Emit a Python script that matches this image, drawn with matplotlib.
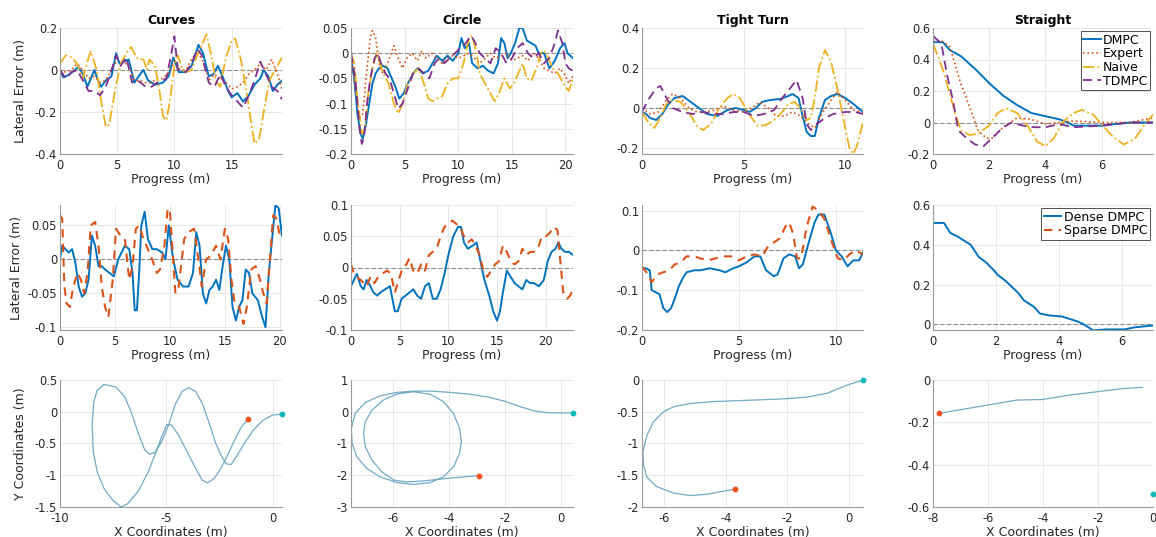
import matplotlib
matplotlib.use("Agg")
import matplotlib.pyplot as plt
from matplotlib.ticker import FuncFormatter

plt.rcParams['font.family'] = ['DejaVu Sans']
plt.rcParams['axes.unicode_minus'] = False

# ---------------- Row 1 : Curves ----------------
cur_dmpc_x = [0, 0.3, 0.7, 1.2, 1.6, 2.0, 2.4, 3.0, 3.4, 3.6, 4.0, 4.5, 4.9, 5.2, 5.6, 6.0, 6.5, 7.0, 7.3, 7.7, 8.3, 9.0, 9.5, 9.9, 10.4, 11.0, 11.5, 12.1, 12.5, 13.0, 13.4, 13.8, 14.2, 14.7, 15.0, 15.5, 16.0, 16.5, 17.0, 17.5, 17.8, 18.2, 18.6, 19.0, 19.4]
cur_dmpc_y = [0.0, -0.035, -0.025, -0.005, 0.015, -0.02, -0.08, 0.0, -0.06, -0.08, -0.05, -0.03, 0.08, 0.03, 0.04, 0.05, -0.06, -0.02, 0.0, -0.05, -0.07, -0.06, -0.03, 0.06, -0.01, -0.01, 0.02, 0.12, 0.08, -0.03, -0.02, 0.02, -0.03, -0.10, -0.13, -0.11, -0.15, -0.12, -0.07, -0.04, 0.0, -0.03, -0.10, -0.07, -0.05]
cur_exp_x = [0, 0.5, 1.0, 1.5, 2.0, 2.5, 3.0, 3.5, 4.0, 4.5, 5.0, 5.5, 6.0, 6.5, 7.0, 7.5, 8.0, 8.5, 9.0, 9.5, 10.0, 10.5, 11.0, 11.5, 12.0, 12.5, 13.0, 13.5, 14.0, 14.5, 15.0, 15.5, 16.0, 16.5, 17.0, 17.5, 18.0, 18.5, 19.0, 19.4]
cur_exp_y = [0.0, -0.01, 0.0, 0.03, 0.0, -0.04, -0.03, -0.06, -0.05, 0.0, 0.05, 0.04, 0.02, -0.05, -0.05, -0.06, -0.06, -0.04, -0.04, -0.01, 0.04, 0.0, 0.0, 0.05, 0.09, 0.04, -0.05, -0.02, -0.04, -0.06, -0.09, -0.08, -0.06, -0.02, 0.0, 0.03, 0.0, 0.05, -0.02, -0.09]
cur_naive_x = [0, 0.5, 1.0, 1.5, 2.0, 2.5, 2.7, 3.2, 3.6, 4.0, 4.3, 4.8, 5.3, 5.8, 6.2, 6.8, 7.3, 7.6, 7.8, 8.3, 8.7, 9.0, 9.3, 9.6, 10.0, 10.3, 10.7, 11.0, 11.5, 12.0, 12.4, 12.8, 13.3, 13.6, 14.0, 14.5, 15.0, 15.3, 15.8, 16.3, 16.7, 17.0, 17.4, 17.8, 18.3, 18.8, 19.4]
cur_naive_y = [0.03, 0.07, 0.06, 0.03, -0.04, 0.06, 0.09, 0.0, -0.15, -0.27, -0.26, -0.10, 0.03, 0.08, 0.11, 0.05, 0.05, 0.0, 0.05, 0.02, -0.10, -0.22, -0.24, -0.15, 0.02, 0.07, 0.0, -0.01, 0.0, 0.07, 0.12, 0.17, 0.05, -0.05, -0.08, 0.06, 0.14, 0.15, 0.05, -0.10, -0.25, -0.35, -0.33, -0.20, -0.05, 0.0, 0.06]
cur_td_x = [0, 0.5, 1.0, 1.5, 2.0, 2.5, 3.0, 3.5, 4.0, 4.5, 4.9, 5.3, 5.8, 6.3, 6.8, 7.5, 8.0, 8.5, 9.3, 9.7, 10.0, 10.3, 11.0, 11.5, 12.0, 12.4, 13.0, 13.5, 14.0, 14.5, 15.0, 15.5, 16.0, 16.5, 17.0, 17.5, 18.0, 18.5, 19.0, 19.4]
cur_td_y = [0.0, -0.04, -0.01, 0.0, -0.05, -0.10, -0.10, -0.12, -0.08, 0.0, 0.07, 0.02, 0.06, -0.06, -0.05, -0.08, -0.08, -0.06, -0.04, 0.07, 0.16, 0.0, -0.01, 0.03, 0.10, 0.07, -0.06, -0.08, -0.02, -0.08, -0.12, -0.15, -0.18, -0.12, -0.05, 0.04, -0.02, -0.08, -0.10, -0.14]

# ---------------- Row 1 : Circle ----------------
cir_dmpc_x = [0, 0.3, 0.6, 0.9, 1.1, 1.4, 1.7, 2.0, 2.3, 2.6, 3.0, 3.4, 3.8, 4.2, 4.5, 4.9, 5.3, 5.8, 6.2, 6.7, 7.2, 7.6, 8.0, 8.5, 9.0, 9.5, 10.0, 10.3, 10.6, 11.0, 11.3, 11.8, 12.3, 12.8, 13.3, 13.7, 14.0, 14.3, 14.6, 14.9, 15.3, 15.7, 16.0, 16.4, 16.8, 17.2, 17.5, 18.0, 18.5, 19.0, 19.5, 19.9, 20.2, 20.7]
cir_dmpc_y = [-0.01, -0.05, -0.12, -0.16, -0.17, -0.14, -0.10, -0.06, -0.04, -0.03, -0.025, -0.03, -0.05, -0.07, -0.09, -0.08, -0.06, -0.04, -0.03, -0.04, -0.035, -0.02, -0.005, -0.015, -0.005, -0.015, 0.0, 0.03, 0.01, 0.02, -0.02, -0.03, -0.025, -0.035, -0.04, -0.02, 0.03, 0.02, -0.01, 0.0, 0.02, 0.05, 0.05, 0.025, 0.02, 0.015, 0.0, 0.0, -0.03, -0.015, 0.01, 0.02, 0.0, -0.01]
cir_exp_x = [0, 0.4, 0.8, 1.1, 1.4, 1.8, 2.0, 2.3, 2.7, 3.0, 3.4, 4.0, 4.4, 4.8, 5.2, 5.7, 6.2, 6.6, 7.0, 7.5, 8.0, 8.5, 9.0, 9.5, 10.0, 10.5, 11.0, 11.5, 12.0, 12.5, 13.0, 13.5, 14.0, 14.5, 15.0, 15.5, 16.0, 16.5, 17.0, 17.5, 18.0, 18.5, 19.0, 19.5, 20.0, 20.3, 20.7]
cir_exp_y = [0.0, -0.07, -0.13, -0.12, -0.05, 0.03, 0.045, 0.03, -0.03, -0.04, -0.02, 0.015, -0.01, -0.03, -0.01, 0.0, -0.015, 0.005, -0.01, 0.0, -0.01, -0.02, -0.01, -0.005, -0.01, -0.005, 0.0, -0.01, -0.02, -0.01, 0.0, -0.01, -0.005, 0.0, -0.015, -0.01, -0.005, -0.015, 0.0, -0.01, -0.03, -0.035, -0.04, -0.03, -0.045, -0.06, -0.045]
cir_naive_x = [0, 0.3, 0.6, 1.0, 1.3, 1.6, 2.0, 2.4, 2.7, 3.0, 3.5, 4.0, 4.4, 4.8, 5.3, 5.8, 6.3, 6.8, 7.2, 7.6, 8.0, 8.5, 9.0, 9.5, 10.0, 10.5, 11.0, 11.3, 11.7, 12.0, 12.5, 13.0, 13.4, 13.8, 14.3, 14.8, 15.2, 15.6, 16.0, 16.4, 16.8, 17.3, 17.7, 18.0, 18.4, 18.8, 19.3, 19.8, 20.3, 20.7]
cir_naive_y = [0.0, -0.02, -0.09, -0.16, -0.15, -0.08, -0.03, 0.0, -0.02, -0.04, -0.06, -0.10, -0.12, -0.10, -0.06, -0.04, -0.03, -0.06, -0.09, -0.095, -0.09, -0.085, -0.06, -0.05, -0.05, -0.02, 0.03, 0.035, 0.0, -0.04, -0.06, -0.08, -0.095, -0.08, -0.05, -0.07, -0.06, -0.04, -0.02, -0.05, -0.055, -0.03, 0.0, 0.005, -0.01, -0.03, -0.04, -0.06, -0.075, -0.05]
cir_td_x = [0, 0.4, 0.8, 1.0, 1.2, 1.5, 1.8, 2.2, 2.5, 2.8, 3.2, 3.6, 4.0, 4.4, 4.8, 5.3, 5.8, 6.3, 6.8, 7.3, 7.8, 8.2, 8.7, 9.2, 9.7, 10.2, 10.7, 11.2, 11.6, 12.0, 12.5, 13.0, 13.5, 14.0, 14.5, 15.0, 15.5, 16.0, 16.5, 17.0, 17.5, 18.0, 18.5, 19.0, 19.3, 19.7, 20.0, 20.3, 20.7]
cir_td_y = [0.0, -0.05, -0.15, -0.18, -0.17, -0.10, -0.05, -0.01, 0.0, -0.02, -0.04, -0.05, -0.08, -0.11, -0.10, -0.07, -0.04, -0.03, -0.04, -0.05, -0.02, -0.01, -0.02, -0.01, 0.0, 0.01, 0.02, 0.035, 0.02, 0.0, -0.01, -0.02, 0.01, 0.0, -0.02, -0.01, 0.01, 0.02, 0.0, -0.01, 0.0, -0.02, -0.01, 0.02, 0.045, 0.02, -0.02, -0.03, -0.035]

# ---------------- Row 1 : Tight Turn ----------------
tt_dmpc_x = [0, 0.2, 0.4, 0.7, 1.0, 1.3, 1.6, 2.0, 2.4, 2.8, 3.2, 3.7, 4.2, 4.6, 5.0, 5.3, 5.6, 5.9, 6.3, 6.8, 7.2, 7.4, 7.7, 7.9, 8.1, 8.3, 8.5, 8.7, 9.0, 9.3, 9.6, 10.0, 10.4, 10.87]
tt_dmpc_y = [-0.02, -0.03, -0.05, -0.06, -0.03, 0.02, 0.05, 0.06, 0.03, 0.0, -0.03, -0.04, -0.01, 0.0, -0.01, -0.02, 0.0, 0.03, 0.04, 0.045, 0.06, 0.07, 0.05, -0.04, -0.12, -0.14, -0.14, -0.05, 0.04, 0.06, 0.07, 0.05, 0.02, -0.02]
tt_exp_x = [0, 0.4, 0.8, 1.2, 1.5, 1.9, 2.3, 2.7, 3.1, 3.6, 4.0, 4.5, 5.0, 5.4, 5.8, 6.2, 6.6, 7.0, 7.4, 7.8, 8.2, 8.5, 8.9, 9.3, 9.6, 10.0, 10.4, 10.87]
tt_exp_y = [0.0, -0.03, -0.02, 0.04, 0.07, 0.05, 0.0, -0.02, -0.02, -0.01, 0.01, -0.01, -0.02, 0.0, 0.03, 0.0, -0.04, -0.04, -0.02, -0.04, -0.08, -0.10, -0.02, 0.04, 0.08, 0.04, -0.01, -0.02]
tt_naive_x = [0, 0.3, 0.6, 0.9, 1.2, 1.5, 1.9, 2.3, 2.7, 3.0, 3.4, 3.8, 4.2, 4.5, 4.8, 5.1, 5.4, 5.7, 6.1, 6.5, 6.9, 7.2, 7.5, 7.8, 8.1, 8.3, 8.5, 8.7, 9.0, 9.3, 9.6, 9.9, 10.2, 10.4, 10.6, 10.87]
tt_naive_y = [-0.02, -0.07, -0.10, -0.05, 0.02, 0.04, 0.03, -0.02, -0.09, -0.11, -0.08, 0.0, 0.05, 0.07, 0.05, 0.0, -0.05, -0.09, -0.085, -0.06, -0.02, 0.02, 0.03, 0.0, -0.06, -0.05, 0.05, 0.20, 0.29, 0.23, 0.10, -0.05, -0.20, -0.23, -0.18, -0.07]
tt_td_x = [0, 0.3, 0.7, 0.9, 1.2, 1.5, 2.0, 2.5, 3.0, 3.5, 4.0, 4.5, 5.0, 5.5, 6.0, 6.5, 6.9, 7.3, 7.6, 7.9, 8.1, 8.3, 8.6, 9.0, 9.4, 10.0, 10.5, 10.87]
tt_td_y = [-0.02, 0.04, 0.10, 0.11, 0.05, 0.0, -0.02, -0.03, -0.02, -0.03, -0.03, -0.02, -0.02, -0.04, -0.03, -0.01, 0.05, 0.10, 0.14, 0.05, -0.08, -0.11, -0.08, -0.05, -0.03, -0.02, -0.02, -0.03]

# ---------------- Row 1 : Straight ----------------
st_dmpc_x = [0, 0.35, 0.6, 1.0, 1.5, 2.0, 2.5, 3.0, 3.5, 4.0, 4.5, 4.8, 5.0, 5.5, 6.0, 6.5, 7.0, 7.83]
st_dmpc_y = [0.51, 0.51, 0.46, 0.42, 0.34, 0.25, 0.17, 0.11, 0.06, 0.04, 0.02, 0.0, -0.02, -0.02, -0.02, -0.01, 0.0, 0.0]
st_exp_x = [0, 0.3, 0.6, 0.8, 1.0, 1.2, 1.4, 1.6, 1.9, 2.1, 2.5, 3.0, 3.5, 4.0, 4.5, 5.0, 6.0, 7.0, 7.83]
st_exp_y = [0.52, 0.52, 0.48, 0.36, 0.24, 0.15, 0.05, -0.05, -0.10, -0.10, -0.03, 0.03, 0.02, -0.01, 0.0, 0.01, 0.0, 0.0, 0.03]
st_naive_x = [0, 0.2, 0.4, 0.6, 0.8, 1.0, 1.3, 1.6, 2.0, 2.3, 2.6, 3.0, 3.4, 3.7, 4.0, 4.3, 4.6, 5.0, 5.3, 5.7, 6.0, 6.4, 6.8, 7.2, 7.5, 7.83]
st_naive_y = [0.50, 0.41, 0.31, 0.18, 0.05, -0.05, -0.08, -0.07, -0.02, 0.06, 0.09, 0.06, -0.03, -0.12, -0.15, -0.10, 0.0, 0.06, 0.08, 0.05, -0.01, -0.09, -0.14, -0.10, -0.02, 0.05]
st_td_x = [0, 0.3, 0.5, 0.7, 0.9, 1.2, 1.5, 1.8, 2.1, 2.5, 2.8, 3.2, 3.6, 4.0, 4.5, 5.0, 6.0, 7.0, 7.83]
st_td_y = [0.55, 0.50, 0.30, 0.15, -0.05, -0.10, -0.14, -0.15, -0.10, -0.03, 0.0, -0.02, -0.03, -0.03, -0.01, -0.03, -0.02, 0.0, 0.0]

# ---------------- Row 2 : Dense vs Sparse ----------------
cur_dense_x = [0, 0.2, 0.5, 0.8, 1.1, 1.4, 1.7, 2.0, 2.3, 2.6, 2.9, 3.2, 3.5, 3.8, 4.1, 4.5, 4.9, 5.3, 5.6, 5.9, 6.3, 6.6, 6.8, 7.0, 7.2, 7.4, 7.7, 8.0, 8.4, 8.8, 9.3, 9.6, 9.9, 10.3, 10.7, 11.2, 11.7, 12.1, 12.4, 12.7, 13.0, 13.3, 13.6, 13.9, 14.2, 14.5, 14.8, 15.1, 15.4, 15.7, 16.0, 16.3, 16.6, 16.9, 17.2, 17.5, 18.0, 18.4, 18.7, 19.0, 19.3, 19.6, 19.9, 20.2]
cur_dense_y = [0.0, 0.02, 0.015, 0.01, 0.015, -0.005, -0.04, -0.055, -0.05, -0.03, 0.035, 0.02, -0.01, -0.01, -0.015, -0.02, -0.025, 0.0, 0.01, 0.02, 0.015, -0.02, -0.075, -0.075, -0.02, 0.05, 0.07, 0.03, 0.015, 0.015, 0.01, 0.0, 0.05, 0.0, -0.03, -0.04, -0.04, -0.02, 0.04, 0.02, -0.05, -0.065, -0.045, -0.04, -0.03, -0.045, -0.01, 0.02, 0.0, -0.07, -0.09, -0.07, -0.06, -0.015, -0.02, -0.05, -0.06, -0.085, -0.10, -0.02, 0.03, 0.08, 0.075, 0.035]
cur_sparse_x = [0, 0.2, 0.4, 0.6, 0.9, 1.2, 1.6, 1.9, 2.2, 2.5, 2.8, 3.2, 3.5, 3.8, 4.1, 4.4, 4.8, 5.1, 5.5, 5.9, 6.3, 6.6, 6.9, 7.2, 7.6, 8.0, 8.5, 8.8, 9.1, 9.5, 9.8, 10.0, 10.3, 10.5, 10.8, 11.3, 11.7, 12.2, 12.6, 12.9, 13.3, 13.7, 14.2, 14.6, 15.0, 15.3, 15.6, 15.9, 16.3, 16.7, 17.0, 17.4, 17.8, 18.2, 18.5, 18.8, 19.1, 19.4, 19.7, 20.0]
cur_sparse_y = [0.065, 0.06, -0.04, -0.065, -0.07, -0.04, -0.02, -0.03, -0.05, -0.02, 0.05, 0.055, 0.02, -0.04, -0.07, -0.085, -0.03, 0.045, 0.035, 0.03, -0.03, -0.01, 0.045, 0.05, 0.03, 0.015, -0.005, -0.02, -0.015, 0.02, 0.075, 0.07, 0.0, -0.05, -0.04, 0.03, 0.04, 0.045, 0.0, -0.04, 0.0, 0.005, 0.02, 0.0, 0.045, 0.03, -0.03, -0.065, -0.07, -0.095, -0.07, -0.015, -0.01, -0.03, -0.05, -0.065, 0.0, 0.065, 0.06, 0.035]

cir_dense_x = [0, 0.3, 0.6, 1.0, 1.3, 1.6, 2.0, 2.3, 2.7, 3.0, 3.5, 4.0, 4.5, 4.8, 5.2, 5.6, 6.0, 6.4, 6.8, 7.2, 7.6, 8.0, 8.4, 8.8, 9.2, 9.6, 10.0, 10.5, 11.0, 11.3, 11.6, 12.0, 12.5, 12.9, 13.3, 13.7, 14.2, 14.6, 15.0, 15.3, 15.6, 16.0, 16.4, 16.8, 17.2, 17.6, 18.0, 18.4, 18.8, 19.3, 19.8, 20.2, 20.6, 21.0, 21.3, 21.6, 22.0, 22.4, 22.8]
cir_dense_y = [-0.03, -0.02, -0.01, -0.03, -0.035, -0.02, -0.03, -0.04, -0.045, -0.04, -0.035, -0.03, -0.07, -0.07, -0.05, -0.045, -0.04, -0.035, -0.045, -0.05, -0.03, -0.025, -0.05, -0.05, -0.035, -0.01, 0.02, 0.05, 0.065, 0.065, 0.04, 0.03, 0.035, 0.04, 0.01, -0.02, -0.045, -0.07, -0.085, -0.07, -0.04, -0.005, -0.015, -0.025, -0.03, -0.035, -0.02, -0.025, -0.025, -0.03, -0.02, 0.01, 0.025, 0.03, 0.04, 0.03, 0.025, 0.025, 0.02]
cir_sparse_x = [0, 0.3, 0.6, 1.0, 1.3, 1.6, 2.0, 2.4, 2.8, 3.2, 3.7, 4.1, 4.5, 4.9, 5.3, 5.7, 6.0, 6.4, 6.8, 7.2, 7.6, 8.0, 8.4, 8.8, 9.2, 9.6, 10.0, 10.4, 10.8, 11.2, 11.6, 12.0, 12.4, 12.8, 13.2, 13.6, 14.0, 14.4, 14.8, 15.2, 15.6, 16.0, 16.4, 16.8, 17.2, 17.6, 18.0, 18.4, 18.8, 19.2, 19.6, 20.0, 20.4, 20.8, 21.2, 21.5, 21.8, 22.2, 22.5, 22.8]
cir_sparse_y = [0.005, -0.01, -0.015, -0.02, -0.025, -0.03, -0.015, -0.025, -0.015, -0.01, -0.005, -0.01, -0.04, -0.02, 0.0, 0.005, 0.015, -0.005, -0.01, 0.005, -0.005, 0.02, 0.025, 0.03, 0.05, 0.065, 0.07, 0.075, 0.07, 0.065, 0.05, 0.04, 0.045, 0.035, 0.02, -0.005, -0.015, -0.005, 0.005, 0.01, 0.035, 0.025, 0.01, 0.005, 0.01, 0.03, 0.02, 0.025, 0.025, 0.03, 0.05, 0.05, 0.055, 0.065, 0.06, 0.01, -0.04, -0.05, -0.045, -0.035]

tt_dense_x = [0, 0.2, 0.4, 0.5, 0.7, 0.9, 1.1, 1.3, 1.5, 1.7, 1.9, 2.1, 2.3, 2.7, 3.0, 3.5, 4.0, 4.3, 4.7, 5.0, 5.4, 5.8, 6.1, 6.4, 6.8, 7.0, 7.3, 7.6, 7.9, 8.1, 8.3, 8.6, 8.9, 9.1, 9.4, 9.7, 10.0, 10.3, 10.6, 10.9, 11.2, 11.4]
tt_dense_y = [-0.045, -0.045, -0.05, -0.10, -0.105, -0.11, -0.145, -0.155, -0.145, -0.12, -0.09, -0.07, -0.055, -0.05, -0.05, -0.045, -0.05, -0.055, -0.045, -0.04, -0.03, -0.015, -0.015, -0.05, -0.065, -0.06, -0.02, -0.01, -0.015, -0.045, -0.035, 0.02, 0.07, 0.09, 0.09, 0.05, 0.0, -0.015, -0.04, -0.025, -0.025, -0.005]
tt_sparse_x = [0, 0.3, 0.5, 0.8, 1.1, 1.4, 1.7, 2.0, 2.3, 2.7, 3.0, 3.4, 3.8, 4.2, 4.6, 5.0, 5.4, 5.8, 6.2, 6.5, 6.8, 7.1, 7.4, 7.6, 7.8, 8.0, 8.2, 8.5, 8.8, 9.1, 9.4, 9.6, 9.8, 10.1, 10.4, 10.7, 11.0, 11.4]
tt_sparse_y = [-0.04, -0.06, -0.08, -0.06, -0.055, -0.05, -0.035, -0.03, -0.015, -0.015, -0.02, -0.025, -0.02, -0.015, -0.015, -0.025, -0.015, -0.01, -0.015, 0.01, 0.02, 0.03, 0.06, 0.07, 0.04, -0.02, -0.02, 0.06, 0.11, 0.10, 0.08, 0.05, 0.02, -0.02, -0.025, -0.01, 0.0, -0.01]

st_dense_x = [0, 0.35, 0.55, 0.8, 1.0, 1.2, 1.45, 1.7, 1.95, 2.05, 2.3, 2.5, 2.7, 2.9, 3.2, 3.4, 3.7, 4.1, 4.3, 4.6, 4.8, 5.1, 5.5, 5.8, 6.1, 6.4, 6.7, 7.0]
st_dense_y = [0.51, 0.51, 0.46, 0.44, 0.42, 0.40, 0.34, 0.31, 0.27, 0.25, 0.22, 0.19, 0.16, 0.12, 0.09, 0.055, 0.045, 0.04, 0.03, 0.015, 0.0, -0.03, -0.025, -0.025, -0.025, -0.015, -0.01, -0.005]
st_sparse_x = [-0.05, 0.01]
st_sparse_y = [0.47, 0.47]

# ---------------- Row 3 : Trajectories ----------------
cur_traj_x = [0.43, 0.0, -0.45, -0.92, -1.40, -1.72, -1.96, -2.2, -2.44, -2.68, -2.99, -3.31, -3.63, -3.95, -4.27, -4.59, -4.9, -5.22, -5.54, -5.78, -6.02, -6.34, -6.66, -6.97, -7.37, -7.93, -8.25, -8.41, -8.49, -8.44, -8.25, -7.93, -7.53, -7.13, -6.82, -6.34, -5.86, -5.54, -5.22, -4.98, -4.75, -4.43, -4.03, -3.63, -3.31, -3.07, -2.75, -2.44, -2.12, -1.8, -1.48, -1.18]
cur_traj_y = [-0.04, -0.05, -0.13, -0.29, -0.53, -0.71, -0.83, -0.82, -0.68, -0.5, -0.18, 0.13, 0.32, 0.38, 0.32, 0.11, -0.21, -0.47, -0.64, -0.67, -0.6, -0.32, 0.0, 0.24, 0.39, 0.43, 0.34, 0.16, -0.21, -0.63, -0.95, -1.21, -1.39, -1.5, -1.45, -1.26, -0.95, -0.68, -0.39, -0.2, -0.21, -0.37, -0.63, -0.89, -1.08, -1.12, -1.05, -0.89, -0.68, -0.45, -0.24, -0.12]
cir_traj_x = [0.43, 0.0, -0.5, -0.98, -1.46, -2.05, -2.65, -3.25, -3.97, -4.68, -5.28, -5.88, -6.48, -7.01, -7.37, -7.51, -7.48, -7.31, -6.95, -6.48, -5.88, -5.28, -4.68, -4.21, -3.85, -3.63, -3.57, -3.63, -3.85, -4.21, -4.68, -5.28, -5.88, -6.36, -6.77, -7.01, -7.07, -7.01, -6.77, -6.42, -6.0, -5.52, -4.92, -4.32, -3.61, -2.93]
cir_traj_y = [-0.03, -0.04, -0.03, 0.03, 0.16, 0.34, 0.47, 0.55, 0.61, 0.65, 0.65, 0.61, 0.5, 0.29, -0.05, -0.53, -1.0, -1.42, -1.79, -2.05, -2.23, -2.29, -2.23, -2.05, -1.73, -1.31, -0.95, -0.53, -0.05, 0.32, 0.55, 0.63, 0.56, 0.37, 0.05, -0.32, -0.68, -1.1, -1.52, -1.89, -2.15, -2.21, -2.18, -2.12, -2.06, -2.01]
tt_traj_x = [0.47, -0.05, -0.7, -1.36, -2.23, -3.31, -4.4, -5.15, -5.7, -6.03, -6.36, -6.57, -6.7, -6.68, -6.57, -6.25, -5.7, -5.16, -4.62, -4.07, -3.71]
tt_traj_y = [0.0, -0.08, -0.21, -0.27, -0.3, -0.32, -0.34, -0.37, -0.42, -0.5, -0.66, -0.87, -1.13, -1.34, -1.53, -1.68, -1.78, -1.82, -1.8, -1.75, -1.72]
st_traj_x = [-7.8, -6.0, -4.96, -4.0, -3.03, -2.0, -1.08, -0.39]
st_traj_y = [-0.158, -0.118, -0.095, -0.092, -0.071, -0.055, -0.04, -0.035]
# end markers: (x, y) of the red end point and the cyan point
traj_red = [(-1.18, -0.12), (-2.93, -2.01), (-3.71, -1.72), (-7.8, -0.158)]
traj_cyan = [(0.43, -0.04), (0.43, -0.03), (0.47, 0.0), (-0.01, -0.54)]

titles = ["Curves", "Circle", "Tight Turn", "Straight"]

C_BLUE = '#0072BD'
C_ORANGE = '#D95319'
C_YELLOW = '#EDB120'
C_PURPLE = '#7E2F8E'
C_TRAJ = '#72aac6'
C_RED = '#f2501e'
C_CYAN = '#13b8b8'
TXT = '#262626'

fig = plt.figure(figsize=(11.56, 5.37), dpi=100)
W = 1156.0
H = 537.0
col_left = [60, 351, 642, 933]
col_w = [222, 222, 221, 220]
rows = [(28, 154), (205, 330), (380, 507)]

fmt = FuncFormatter(lambda v, p: ('%g' % round(v, 6)))


def make_ax(r, c):
    top, bot = rows[r]
    ax = fig.add_axes([col_left[c] / W, 1 - bot / H, col_w[c] / W, (bot - top) / H])
    for s in ['top', 'right']:
        ax.spines[s].set_visible(False)
    for s in ['left', 'bottom']:
        ax.spines[s].set_color('#9a9a9a')
        ax.spines[s].set_linewidth(0.8)
    ax.grid(True, color='#e3e3e3', linewidth=0.6)
    ax.set_axisbelow(True)
    ax.tick_params(length=0, labelsize=8.3, colors=TXT)
    ax.tick_params(axis='x', pad=3.5)
    ax.tick_params(axis='y', pad=2)
    ax.xaxis.set_major_formatter(fmt)
    ax.yaxis.set_major_formatter(fmt)
    return ax


# Row 1
row1 = [
    (cur_dmpc_x, cur_dmpc_y, cur_exp_x, cur_exp_y, cur_naive_x, cur_naive_y, cur_td_x, cur_td_y),
    (cir_dmpc_x, cir_dmpc_y, cir_exp_x, cir_exp_y, cir_naive_x, cir_naive_y, cir_td_x, cir_td_y),
    (tt_dmpc_x, tt_dmpc_y, tt_exp_x, tt_exp_y, tt_naive_x, tt_naive_y, tt_td_x, tt_td_y),
    (st_dmpc_x, st_dmpc_y, st_exp_x, st_exp_y, st_naive_x, st_naive_y, st_td_x, st_td_y),
]
r1_xlim = [19.4, 20.7, 10.87, 7.83]
r1_ylim = [(-0.4, 0.2), (-0.2, 0.05), (-0.23, 0.4), (-0.2, 0.6)]
r1_xt = [[0, 5, 10, 15], [0, 5, 10, 15, 20], [0, 5, 10], [0, 2, 4, 6]]
r1_yt = [[-0.4, -0.2, 0, 0.2], [-0.2, -0.15, -0.1, -0.05, 0, 0.05], [-0.2, 0, 0.2, 0.4], [-0.2, 0, 0.2, 0.4, 0.6]]

for c in range(4):
    ax = make_ax(0, c)
    d = row1[c]
    ax.axhline(0, color='#8c8c8c', lw=0.8, ls='--', dashes=(4, 2))
    l1, = ax.plot(d[0], d[1], color=C_BLUE, lw=1.4, label='DMPC')
    l2, = ax.plot(d[2], d[3], color=C_ORANGE, lw=1.2, ls=':', label='Expert')
    l3, = ax.plot(d[4], d[5], color=C_YELLOW, lw=1.3, ls='-.', label='Naive')
    l4, = ax.plot(d[6], d[7], color=C_PURPLE, lw=1.3, ls='--', dashes=(5, 3), label='TDMPC')
    ax.set_xlim(0, r1_xlim[c])
    ax.set_ylim(*r1_ylim[c])
    ax.set_xticks(r1_xt[c])
    ax.set_yticks(r1_yt[c])
    ax.set_title(titles[c], fontsize=9, fontweight='bold', color='black', pad=3)
    ax.set_xlabel('Progress (m)', fontsize=9, color=TXT, labelpad=1)
    if c == 0:
        ax.set_ylabel('Lateral Error (m)', fontsize=9, color=TXT, labelpad=6)
    if c == 3:
        leg = ax.legend(handles=[l1, l2, l3, l4], loc='upper right', fontsize=9,
                        handlelength=1.4, handletextpad=0.2, borderpad=0.2,
                        labelspacing=0.05, borderaxespad=0.25, fancybox=False,
                        edgecolor='#333333', framealpha=1)
        leg.get_frame().set_linewidth(0.6)

# Row 2
row2 = [
    (cur_dense_x, cur_dense_y, cur_sparse_x, cur_sparse_y),
    (cir_dense_x, cir_dense_y, cir_sparse_x, cir_sparse_y),
    (tt_dense_x, tt_dense_y, tt_sparse_x, tt_sparse_y),
    (st_dense_x, st_dense_y, st_sparse_x, st_sparse_y),
]
r2_xlim = [20.2, 22.8, 11.4, 7.0]
r2_ylim = [(-0.104, 0.08), (-0.1, 0.1), (-0.2, 0.114), (-0.028, 0.6)]
r2_xt = [[0, 5, 10, 15, 20], [0, 5, 10, 15, 20], [0, 5, 10], [0, 2, 4, 6]]
r2_yt = [[-0.1, -0.05, 0, 0.05], [-0.1, -0.05, 0, 0.05, 0.1], [-0.2, -0.1, 0, 0.1], [0, 0.2, 0.4, 0.6]]

for c in range(4):
    ax = make_ax(1, c)
    d = row2[c]
    ax.axhline(0, color='#8c8c8c', lw=0.8, ls='--', dashes=(4, 2))
    l1, = ax.plot(d[0], d[1], color=C_BLUE, lw=1.4, label='Dense DMPC')
    l2, = ax.plot(d[2], d[3], color=C_ORANGE, lw=1.5, ls='--', dashes=(4, 3), label='Sparse DMPC')
    ax.set_xlim(0, r2_xlim[c])
    ax.set_ylim(*r2_ylim[c])
    ax.set_xticks(r2_xt[c])
    ax.set_yticks(r2_yt[c])
    ax.set_xlabel('Progress (m)', fontsize=9, color=TXT, labelpad=1)
    if c == 0:
        ax.set_ylabel('Lateral Error (m)', fontsize=9, color=TXT, labelpad=3)
    if c == 3:
        leg = ax.legend(handles=[l1, l2], loc='upper right', fontsize=9,
                        handlelength=1.4, handletextpad=0.2, borderpad=0.2,
                        labelspacing=0.05, borderaxespad=0.25, fancybox=False,
                        edgecolor='#333333', framealpha=1)
        leg.get_frame().set_linewidth(0.6)

# Row 3
row3 = [(cur_traj_x, cur_traj_y), (cir_traj_x, cir_traj_y), (tt_traj_x, tt_traj_y), (st_traj_x, st_traj_y)]
r3_xlim = [(-10, 0.43), (-7.52, 0.43), (-6.73, 0.47), (-8, 0)]
r3_ylim = [(-1.5, 0.5), (-3, 1), (-2, 0), (-0.6, 0)]
r3_xt = [[-10, -5, 0], [-6, -4, -2, 0], [-6, -4, -2, 0], [-8, -6, -4, -2, 0]]
r3_yt = [[-1.5, -1, -0.5, 0, 0.5], [-3, -2, -1, 0, 1], [-2, -1.5, -1, -0.5, 0], [-0.6, -0.4, -0.2, 0]]

for c in range(4):
    ax = make_ax(2, c)
    tx, ty = row3[c]
    ax.plot(tx, ty, color=C_TRAJ, lw=0.9)
    ax.plot([traj_red[c][0]], [traj_red[c][1]], 'o', color=C_RED, ms=3.2, clip_on=False)
    ax.plot([traj_cyan[c][0]], [traj_cyan[c][1]], 'o', color=C_CYAN, ms=3.2, clip_on=False)
    ax.set_xlim(*r3_xlim[c])
    ax.set_ylim(*r3_ylim[c])
    ax.set_xticks(r3_xt[c])
    ax.set_yticks(r3_yt[c])
    ax.set_xlabel('X Coordinates (m)', fontsize=9, color=TXT, labelpad=1)
    if c == 0:
        ax.set_ylabel('Y Coordinates (m)', fontsize=9, color=TXT, labelpad=6)

fig.savefig('out.png', dpi=100)
